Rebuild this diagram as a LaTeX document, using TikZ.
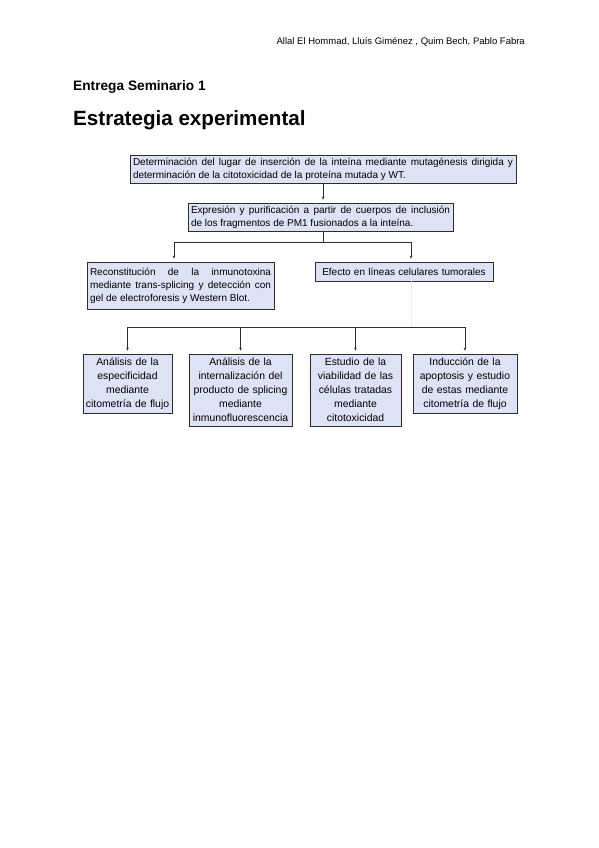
\documentclass[tikz,border=0pt]{standalone}
\usepackage{fontspec}
\setmainfont{Liberation Sans}
\usepackage{tikz}
\usetikzlibrary{arrows.meta}
\definecolor{boxfill}{RGB}{221, 226, 244}
\definecolor{edge}{RGB}{45, 45, 45}
\definecolor{faint}{RGB}{238, 238, 238}

\begin{document}
\begin{tikzpicture}[x=1pt, y=-1pt,
  stepbox/.style={draw=edge, fill=boxfill, line width=0.8pt, inner xsep=3pt, inner ysep=1pt,
    font=\fontsize{10}{13}\selectfont},
  plainbox/.style={stepbox, align=justify},
  centbox/.style={stepbox, align=center},
  lowbox/.style={centbox, inner xsep=1pt, font=\fontsize{10.4}{14}\selectfont},
  link/.style={draw=edge, line width=0.7pt},
  arr/.style={link, -{Stealth[length=3pt, width=2.6pt]}, shorten >=3pt}]

  \fill[white] (0, 0) rectangle (599, 848);
  \useasboundingbox (0, 0) rectangle (599, 848);

  \node[anchor=base east, inner sep=0, font=\fontsize{9.5}{11}\selectfont] (authors) at (525, 45)
    {Allal El Hommad, Lluís Giménez , Quim Bech, Pablo Fabra};
  \node[anchor=base west, inner sep=0, font=\fontsize{13.7}{16}\bfseries] (entrega) at (73, 91)
    {Entrega Seminario 1};
  \node[anchor=base west, inner sep=0, font=\fontsize{20.6}{24}\bfseries] (titulo) at (73, 125)
    {Estrategia experimental};

  % upper boxes
  \node[plainbox, text width=380, minimum height=28] (determ) at (323, 169)
    {Determinación del lugar de inserción de la inteína mediante mutagénesis dirigida y\linebreak
     determinación de la citotoxicidad de la proteína mutada y WT.};
  \node[plainbox, text width=259, minimum height=28] (expr) at (320.5, 217)
    {Expresión y purificación a partir de cuerpos de inclusión\linebreak
     de los fragmentos de PM1 fusionados a la inteína.};
  \node[plainbox, text width=181, minimum height=47] (recon) at (180.5, 285.5)
    {Reconstitución de la inmunotoxina\linebreak
     mediante trans-splicing y detección con\linebreak
     gel de electroforesis y Western Blot.};
  \node[centbox, text width=172, minimum height=19] (efecto) at (404, 271.5)
    {Efecto en líneas celulares tumorales};

  % lower boxes
  \node[lowbox, text width=87, minimum height=59] (espec) at (127.5, 383.5)
    {Análisis de la\\ especificidad\\ mediante\\ citometría de flujo};
  \node[lowbox, text width=101, minimum height=72] (intern) at (240.5, 390)
    {Análisis de la\\ internalización del\\ producto de splicing\\ mediante\\ inmunofluorescencia};
  \node[lowbox, text width=89, minimum height=72] (viab) at (355.5, 390)
    {Estudio de la\\ viabilidad de las\\ células tratadas\\ mediante\\ citotoxicidad};
  \node[lowbox, text width=102, minimum height=59] (apopt) at (465, 383.5)
    {Inducción de la\\ apoptosis y estudio\\ de estas mediante\\ citometría de flujo};

  % connectors
  \coordinate (upL) at (174, 242);
  \coordinate (upR) at (411, 242);
  \coordinate (lowbar) at (411, 327);

  \draw[arr] (determ.south) -- (determ.south |- expr.north);
  \draw[link] (expr.south -| determ.south) -- (determ.south |- upL);
  \draw[link] (upL) -- (upR);
  \draw[arr] (upL) -- (upL |- recon.north);
  \draw[arr] (upR) -- (upR |- efecto.north);
  \draw[faint, line width=0.7pt] (efecto.south -| upR) -- (lowbar);

  \draw[link] (espec.north |- lowbar) -- (apopt.north |- lowbar);
  \foreach \b in {espec, intern, viab, apopt}
    \draw[arr] (\b.north |- lowbar) -- (\b.north);

\end{tikzpicture}
\end{document}
